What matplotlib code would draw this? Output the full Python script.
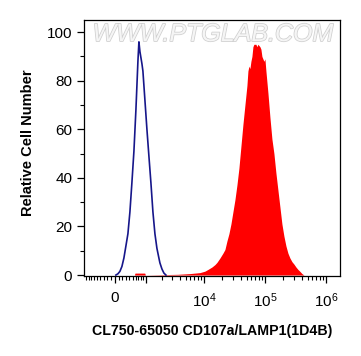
import numpy as np
import matplotlib
matplotlib.use("Agg")
import matplotlib.pyplot as plt
import matplotlib.patheffects as pe
from matplotlib.ticker import FixedLocator, FixedFormatter

plt.rcParams["font.family"] = ["Liberation Sans", "DejaVu Sans"]
plt.rcParams["mathtext.fontset"] = "custom"
plt.rcParams["mathtext.rm"] = "Liberation Sans"
plt.rcParams["mathtext.it"] = "Liberation Sans:italic"
plt.rcParams["mathtext.bf"] = "Liberation Sans:bold"

# control (isotype) histogram, blue outline
control_x = [26, 79, 132, 186, 241, 298, 356, 416, 478, 544, 612, 684, 721,
             760, 840, 881, 969, 1062, 1160, 1266, 1379, 1500, 1629, 1766,
             1840, 1995, 2159, 2338]
control_y = [0, 0.5, 1.5, 3.5, 7, 12, 17, 26, 38, 51, 68, 88, 96,
             92, 87, 84, 72, 60, 49, 38, 26, 17, 11, 7,
             5, 2.5, 0.8, 0]

# stained sample histogram, red fill
stained_x = [560, 580, 960, 990,
             3720, 5906, 8613, 10402, 11650, 13548, 15171, 16361, 18316,
             20515, 22126, 23864, 25728, 27748, 29923, 32277, 34785, 37520,
             40466, 43645, 47055, 50752, 52705, 54732, 56838, 59020, 61290,
             63636, 66085, 71279, 74020, 76860, 82886, 86064, 89376, 92814,
             96383, 100092, 103943, 112098, 120865, 130346, 140580, 151612,
             163476, 176300, 190130, 205050, 221100, 238450, 257160, 277340,
             299020, 322480, 347790, 374970, 404430, 436100]
stained_y = [0, 0.8, 0.8, 0,
             0.3, 0.6, 1.0, 1.6, 2.3, 3.3, 4.3, 5.2, 7,
             9, 10.5, 14, 17, 21, 26, 31, 37, 44,
             53, 62, 70, 78, 84, 86, 85, 88, 90,
             94, 95, 95, 94, 95, 94, 93, 90, 89,
             88, 89, 84, 75, 65, 56, 50, 42,
             35, 28, 21, 16, 12, 9, 7, 5.5,
             4.5, 3.3, 2.3, 1.5, 0.6, 0]

x_major = [0, 1e3, 1e4, 1e5, 1e6]
x_major_labels = ["0", "", r"$10^{4}$", r"$10^{5}$", r"$10^{6}$"]
y_ticks = [0, 20, 40, 60, 80, 100]

# arcsinh display, close to the logicle axis of flow software
width = 697.0


def fwd(x):
    return np.arcsinh(np.asarray(x, dtype=float) / width)


def inv(y):
    return width * np.sinh(np.asarray(y, dtype=float))


fig = plt.figure(figsize=(3.61, 3.56), dpi=100)
ax = fig.add_axes([0.2327, 0.2247, 0.7091, 0.7191])
ax.set_xscale("function", functions=(fwd, inv))

ax.text(0.504, 0.945, "WWW.PTGLAB.COM", transform=ax.transAxes,
        ha="center", va="center", fontsize=18, fontstyle="italic",
        color="#f5f5f5", zorder=0,
        path_effects=[pe.Stroke(linewidth=1.1, foreground="#cfcfcf"),
                      pe.Normal()])

ax.fill_between(stained_x, stained_y, 0, color="#ff0000", linewidth=0,
                zorder=2)
ax.plot(control_x, control_y, color="#16168a", linewidth=1.2, zorder=3)

ax.set_xlim(-1010, 1.7e6)
ax.set_ylim(-0.4, 105)

minor = [-k * 100 for k in range(1, 10)] + [k * 100 for k in range(1, 10)]
for n in (3, 4, 5):
    minor += [k * 10 ** n for k in range(2, 10)]
ax.xaxis.set_major_locator(FixedLocator(x_major))
ax.xaxis.set_major_formatter(FixedFormatter(x_major_labels))
ax.xaxis.set_minor_locator(FixedLocator(minor))
ax.set_yticks(y_ticks)
ax.set_yticks(range(10, 101, 20), minor=True)

ax.tick_params(axis="both", which="major", direction="out", length=5,
               width=0.9, labelsize=11, colors="black")
ax.tick_params(axis="both", which="minor", direction="out", length=3,
               width=0.8)
ax.tick_params(axis="x", which="major", pad=6)
for s in ax.spines.values():
    s.set_linewidth(0.9)

ax.set_xlabel("CL750-65050 CD107a/LAMP1(1D4B)", fontsize=10.2,
              fontweight="bold")
ax.xaxis.set_label_coords(0.502, -0.1875)
ax.set_ylabel("Relative Cell Number", fontsize=10.5, fontweight="bold")
ax.yaxis.set_label_coords(-0.19, 0.52)

fig.savefig("out.png", dpi=100)
